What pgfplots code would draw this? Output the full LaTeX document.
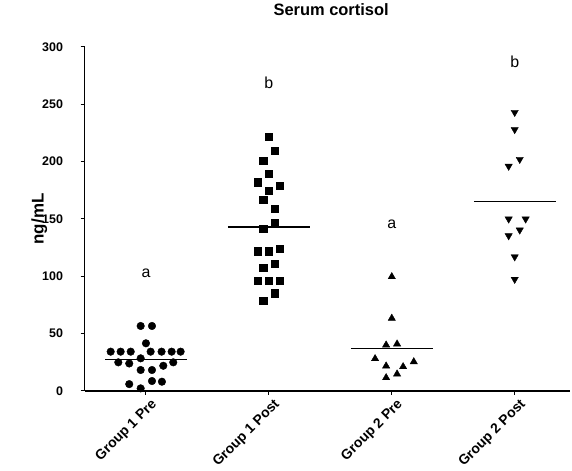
\documentclass[border=0pt]{standalone}
\usepackage{pgfplots}
\pgfplotsset{compat=1.18}
\usepackage{fontspec}
\setmainfont{Liberation Sans}
\begin{document}
\begin{tikzpicture}[x=1bp,y=1bp]
\path[use as bounding box] (0,0) rectangle (572,471);
\begin{axis}[
  at={(84.5bp,80bp)}, anchor=south west,
  scale only axis, width=485.5bp, height=344bp,
  xmin=-0.5, xmax=3.45, ymin=0, ymax=300,
  axis x line*=bottom, axis y line*=left,
  axis line style={-, line width=1.2bp, black},
  tick align=outside, major tick length=4bp,
  tick style={black, line width=1bp},
  ytick={0,50,100,150,200,250,300},
  xtick={0,1,2,3},
  xticklabels={Group 1 Pre, Group 1 Post, Group 2 Pre, Group 2 Post},
  /pgf/number format/assume math mode=true,
  yticklabel style={font=\bfseries\fontsize{12.5}{12.5}\selectfont, xshift=-14bp},
  xticklabel style={font=\bfseries\fontsize{14}{14}\selectfont, rotate=45, anchor=north east, inner sep=1bp, xshift=2bp, yshift=-4bp},
  ylabel={ng/mL},
  every axis y label/.style={at={(axis description cs:-0.093,0.5)}, rotate=90, anchor=center, font=\bfseries\fontsize{17}{17}\selectfont},
  title={Serum cortisol},
  title style={at={(axis description cs:0.508,1)}, anchor=center, yshift=31bp, font=\bfseries\fontsize{16.5}{16.5}\selectfont},
  clip=false,
]
% Group 1 Pre
\addplot[only marks, mark=*, mark size=3.8bp, black] coordinates {
(-0.043,56.7) (0.049,56.7) (0,41.6)
(-0.287,34.3) (-0.206,34.3) (-0.124,34.3) (0.038,34.3) (0.127,34.3) (0.209,34.3) (0.282,34.3)
(-0.043,28.5) (-0.225,25) (-0.136,24) (0.141,22) (0.222,25)
(-0.043,18.3) (0.049,18.3) (-0.136,6) (0.049,8.7) (0.13,8.1) (-0.043,2.3)
};
% Group 1 Post
\addplot[only marks, mark=square*, mark size=3.6bp, black] coordinates {
(1,221.7) (1.046,209.5) (0.954,200.8) (1,189.2) (0.908,182) (1.089,179.3) (1,174.6) (0.954,166.5) (1.046,158.7) (1.046,146.7) (0.954,141.8)
(0.908,122) (1,122) (1.089,124) (0.954,107.8) (1.046,111.3) (0.908,96.2) (1,96.2) (1.089,96.2) (1.046,85.2) (0.954,78.5)
};
% Group 2 Pre
\addplot[only marks, mark=triangle*, mark size=4.2bp, black] coordinates {
(2,99.7) (2,63.4) (1.954,40.1) (2.043,41) (1.864,28.2) (1.954,21.8) (2.092,21.2) (2.179,25.5) (1.954,11.6) (2.043,14.8)
};
% Group 2 Post
\addplot[only marks, mark=triangle*, mark size=4.2bp, mark options={rotate=180}, black] coordinates {
(3,243) (3,228) (2.951,196) (3.041,202) (2.951,150) (3.089,150) (3.041,140.4) (2.951,135.4) (3,117) (3,97.4)
};
% medians
\addplot[black, line width=1.3bp] coordinates {(-0.333,27.5) (0.333,27.5)};
\addplot[black, line width=1.3bp] coordinates {(0.667,143) (1.333,143)};
\addplot[black, line width=1.3bp] coordinates {(1.667,37.2) (2.333,37.2)};
\addplot[black, line width=1.3bp] coordinates {(2.667,165) (3.333,165)};
% letters
\node[font=\fontsize{16}{16}\selectfont] at (axis cs:0,103) {a};
\node[font=\fontsize{16}{16}\selectfont] at (axis cs:1,268.5) {b};
\node[font=\fontsize{16}{16}\selectfont] at (axis cs:2,145.6) {a};
\node[font=\fontsize{16}{16}\selectfont] at (axis cs:3,287) {b};
\end{axis}
\end{tikzpicture}
\end{document}
